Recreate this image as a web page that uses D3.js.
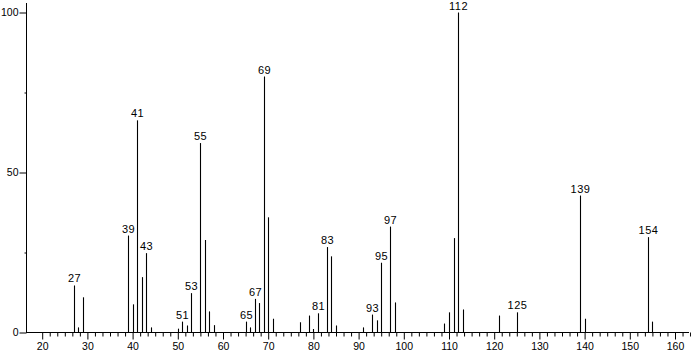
<!DOCTYPE html>
<html>
<head>
<meta charset="utf-8">
<script src="https://cdn.jsdelivr.net/npm/d3@7"></script>
<style>
  body { margin: 0; background: #fff; }
  text { font-family: 'Liberation Sans', sans-serif; fill: #000; }
</style>
</head>
<body>
<svg id="spectrum" width="691" height="351"></svg>
<script>
// m/z and relative intensity
const mz = [27, 28, 29, 39, 40, 41, 42, 43, 44, 50, 51, 52, 53, 55, 56, 57, 58,
  65, 66, 67, 68, 69, 70, 71, 77, 79, 80, 81, 83, 84, 85, 91, 93, 94, 95, 97, 98,
  109, 110, 111, 112, 113, 121, 125, 139, 140, 154, 155];
const intensity = [14.7, 1.6, 11, 30.3, 8.8, 66.3, 17.3, 24.8, 1.6, 1.2, 3.4, 2.2, 12.3, 59.2, 28.9, 6.6, 2.3,
  3.4, 1.6, 10.5, 9.2, 80, 36, 4.3, 3.2, 5.3, 1.1, 6.0, 26.7, 23.8, 2.2, 1.6, 5.6, 3.8, 21.8, 33.1, 9.4,
  2.8, 6.3, 29.5, 100, 7.2, 5.3, 6.3, 42.8, 4.3, 29.8, 3.4];
const labelled = [27, 39, 41, 43, 51, 53, 55, 65, 67, 69, 81, 83, 93, 95, 97, 112, 125, 139, 154];
const xTicks = [20, 30, 40, 50, 60, 70, 80, 90, 100, 110, 120, 130, 140, 150, 160];
const yTicks = [0, 50, 100];
const yMinor = [25, 75];

const peaks = mz.map((m, i) => ({ m: m, v: intensity[i] }));

let svg = d3.select('#spectrum');

let x = d3.scaleLinear().domain([20, 160]).range([42.2, 675]);
let y = d3.scaleLinear().domain([0, 100]).range([332.5, 12.5]);

// minor x ticks, six steps between labels
let minorX = d3.range(20, 163.5, 10 / 6).filter(v => Math.abs(v / 10 - Math.round(v / 10)) > 1e-6);

svg.append('g')
  .attr('transform', 'translate(0, 332.5)')
  .call(d3.axisBottom(x).tickValues(minorX).tickSize(4).tickFormat(''))
  .call(g => g.select('.domain').remove());

svg.append('g')
  .attr('transform', 'translate(0, 332.5)')
  .call(d3.axisBottom(x).tickValues(xTicks).tickSize(7).tickPadding(3).tickFormat(d3.format('d')))
  .call(g => g.select('.domain').remove())
  .call(g => g.selectAll('text').style('font-size', '10.5px').style('font-family', "'Liberation Sans', sans-serif"));

svg.append('g')
  .attr('transform', 'translate(26.5, 0)')
  .call(d3.axisLeft(y).tickValues(yTicks).tickSize(7).tickPadding(1).tickFormat(d3.format('d')))
  .call(g => g.select('.domain').remove())
  .call(g => g.selectAll('text').style('font-size', '10.5px').style('font-family', "'Liberation Sans', sans-serif"));

svg.append('g')
  .attr('transform', 'translate(26.5, 0)')
  .call(d3.axisLeft(y).tickValues(yMinor).tickSize(2).tickFormat(''))
  .call(g => g.select('.domain').remove());

// axis lines
svg.append('line')
  .attr('x1', 26.5).attr('x2', 26.5)
  .attr('y1', 3).attr('y2', y(0))
  .attr('stroke', '#000');
svg.append('line')
  .attr('x1', 26).attr('x2', 689)
  .attr('y1', y(0)).attr('y2', y(0))
  .attr('stroke', '#000');

// sticks
svg.selectAll('.peak')
  .data(peaks)
  .enter()
  .append('line')
  .attr('class', 'peak')
  .attr('x1', d => Math.round(x(d.m)) + 0.5)
  .attr('x2', d => Math.round(x(d.m)) + 0.5)
  .attr('y1', y(0))
  .attr('y2', d => y(d.v))
  .attr('stroke', '#000')
  .attr('stroke-width', 1.1);

svg.selectAll('.peak-label')
  .data(peaks.filter(d => labelled.includes(d.m)))
  .enter()
  .append('text')
  .attr('class', 'peak-label')
  .attr('x', d => Math.round(x(d.m)) + 0.5)
  .attr('y', d => y(d.v) - 3)
  .attr('text-anchor', 'middle')
  .style('font-size', '11px')
  .style('letter-spacing', '0.5px')
  .text(d => d.m);
</script>
</body>
</html>
